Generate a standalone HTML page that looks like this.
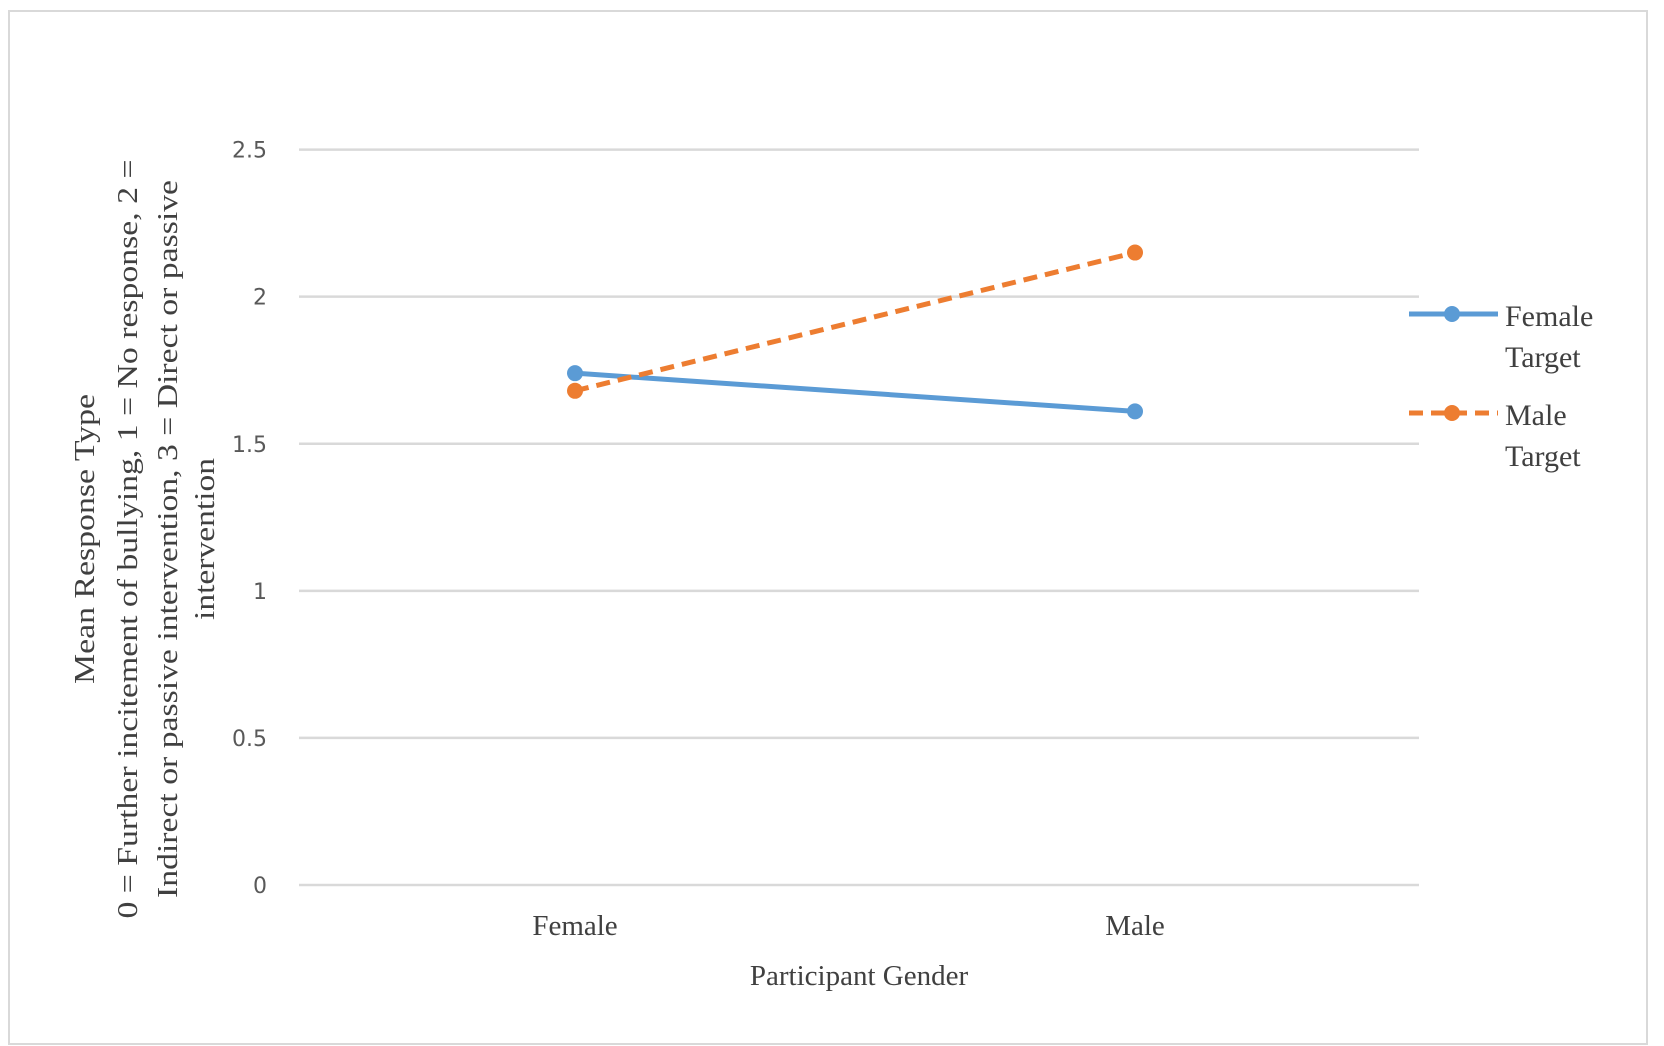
<!DOCTYPE html>
<html><head><meta charset="utf-8"><style>
body{margin:0;background:#fff}
svg{display:block}
</style></head><body>
<svg width="1664" height="1046" xmlns="http://www.w3.org/2000/svg">
<rect x="9" y="11" width="1638" height="1033" fill="#fff" stroke="#d9d9d9" stroke-width="2"/>
<g id="grid"></g><g id="series"></g>
<g font-family="Liberation Serif, serif" font-size="29" fill="#404040" text-anchor="middle">
<text transform="translate(94,539) rotate(-90)" textLength="290" lengthAdjust="spacingAndGlyphs">Mean Response Type</text>
<text transform="translate(137,539) rotate(-90)" textLength="759" lengthAdjust="spacingAndGlyphs">0 = Further incitement of bullying, 1 = No response, 2 =</text>
<text transform="translate(177,539) rotate(-90)" textLength="718" lengthAdjust="spacingAndGlyphs">Indirect  or passive intervention, 3 = Direct  or passive</text>
<text transform="translate(214,539) rotate(-90)" textLength="162" lengthAdjust="spacingAndGlyphs">intervention</text>
</g>
<text x="859" y="985" font-family="Liberation Serif, serif" font-size="29" fill="#404040" text-anchor="middle">Participant Gender</text>
<g font-family="Liberation Serif, serif" font-size="30" fill="#404040">
<g>
<line x1="1409" y1="314" x2="1498" y2="314" stroke="#5b9bd5" stroke-width="5"/>
<circle cx="1452" cy="314" r="8" fill="#5b9bd5"/>
<text x="1505" y="326">Female</text><text x="1505" y="367">Target</text></g>
<g>
<line x1="1409" y1="413" x2="1498" y2="413" stroke="#ed7d31" stroke-width="5" stroke-dasharray="14,8"/>
<circle cx="1452" cy="413" r="8" fill="#ed7d31"/>
<text x="1505" y="425">Male</text><text x="1505" y="466">Target</text></g>
</g>
</svg>
<script>
const categories=["Female","Male"];
const femaleTarget=[1.74,1.61];
const maleTarget=[1.68,2.15];
const yTicks=[0,0.5,1,1.5,2,2.5];
const NS="http://www.w3.org/2000/svg";
const y0=885,yTop=149.6,vmax=2.5,xL=299,xR=1419;
function yS(v){return y0-(v/vmax)*(y0-yTop);}
function xS(i){return xL+(xR-xL)*(i+0.5)/categories.length-4;}
function mk(t,a,p){const e=document.createElementNS(NS,t);for(const k in a)e.setAttribute(k,a[k]);p.appendChild(e);return e;}
const grid=document.getElementById('grid');
yTicks.forEach(v=>{
 const l=mk('line',{x1:xL,x2:xR,y1:yS(v),y2:yS(v),stroke:'#d9d9d9','stroke-width':2.5},grid);
 
 
 const t=mk('text',{x:267,y:yS(v)+8,'text-anchor':'end','font-family':'DejaVu Sans, sans-serif','font-size':22,fill:'#595959'},grid);
 t.textContent=String(v);
 
 
});
categories.forEach((c,i)=>{
 const t=mk('text',{x:xS(i),y:935,'text-anchor':'middle','font-family':'Liberation Serif, serif','font-size':29,fill:'#404040'},grid);
 t.textContent=c;
 
 
});
const sg=document.getElementById('series');
[[femaleTarget,'#5b9bd5',null,'female-target'],[maleTarget,'#ed7d31','14,8','male-target']].forEach(([d,col,dash,nm])=>{
 const pts=d.map((v,i)=>xS(i)+','+yS(v)).join(' ');
 const a={points:pts,fill:'none',stroke:col,'stroke-width':5};
 if(dash)a['stroke-dasharray']=dash;
 const pl=mk('polyline',a,sg);
 
 
 d.forEach((v,i)=>{
  const c=mk('circle',{cx:xS(i),cy:yS(v),r:8,fill:col},sg);
  
  
 });
});
</script>
</body></html>
